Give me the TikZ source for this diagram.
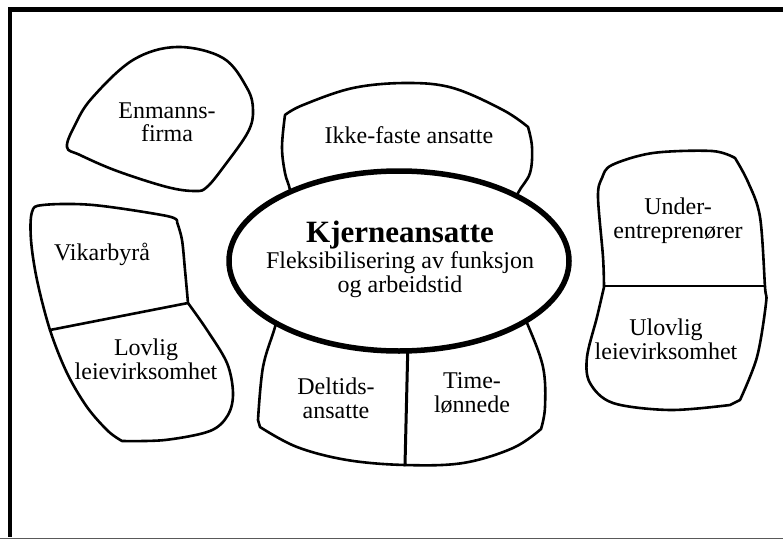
\documentclass[tikz,border=0pt]{standalone}
\usepackage{fontspec}
\setmainfont{Liberation Serif}
\begin{document}
\begin{tikzpicture}[x=1pt,y=-1pt, line join=round, line cap=round,
  blob/.style={draw, line width=2.6pt},
  divider/.style={draw, line width=2.6pt},
  lbl/.style={font=\fontsize{24}{23.5}\selectfont, align=center, anchor=base, inner sep=0pt}]
\useasboundingbox (0,0) rectangle (783,540);
\fill[white] (0,0) rectangle (783,540);
% frame
\coordinate (ftl) at (8,9.5);
\coordinate (ftr) at (783,9.5);
\coordinate (fl1) at (10,8);
\coordinate (fl2) at (10,537);
\coordinate (fb1) at (0,538.5);
\coordinate (fb2) at (783,538.5);
\draw[line width=4.5pt, line cap=butt] (ftl) -- (ftr);
\draw[line width=4pt, line cap=butt] (fl1) -- (fl2);
\draw[line width=1.5pt, black!65, line cap=butt] (fb1) -- (fb2);

% Enmanns-firma blob
\draw[blob] plot[smooth cycle, tension=0.6] coordinates {(67,147) (75,125) (92,98) (133,60) (177,47) (223,58) (247,88) (253,110) (248,132) (225,165) (207,187) (195,191) (167,187) (117,171) (80,155)};

% Ikke-faste ansatte
\draw[blob] plot[smooth, tension=0.6] coordinates {(293,215) (290,190) (285,173) (282,147) (285,115)}
  -- plot[smooth, tension=0.6] coordinates {(285,115) (303,105) (353,88) (407,83) (453,88) (503,110) (528,127)}
  -- plot[smooth, tension=0.6] coordinates {(528,127) (532,147) (530,173) (518,193) (510,215)};

% bottom shape
\draw[blob] plot[smooth, tension=0.6] coordinates {(281,300) (275,327) (263,367) (258,420)}
  -- (260,427)
  -- plot[smooth, tension=0.6] coordinates {(260,427) (297,447) (347,460) (405,465) (463,463) (513,448) (541,429)}
  -- plot[smooth, tension=0.6] coordinates {(541,429) (545,407) (543,367) (527,323) (515,300)};
\coordinate (dtop) at (408,340);
\coordinate (dbot) at (405,465);
\draw[divider, line width=3pt] (dtop) -- (dbot);

% core ellipse
\draw[line width=5.5pt, fill=white] (399,261) ellipse [x radius=170, y radius=90];

% left shape
\draw[blob] plot[smooth, tension=0.55] coordinates {(188,303) (207,330) (227,363) (233,393) (228,415) (210,431) (165,440) (122,441)}
  -- plot[smooth, tension=0.55] coordinates {(122,441) (108,431) (87,407) (67,373) (50,330) (37,280) (31,240) (32,212) (43,205) (93,205) (167,216) (177,222)}
  -- plot[smooth, tension=0.55] coordinates {(177,222) (182,240) (185,270) (188,303)} -- cycle;
\coordinate (ld1) at (50,330);
\coordinate (ld2) at (188,303);
\draw[divider] (ld1) -- (ld2);

% right shape
\draw[blob] plot[smooth, tension=0.55] coordinates {(604,287) (603,257) (598,197) (602,178) (612,165) (653,153) (712,151) (735,158)}
  -- plot[smooth, tension=0.55] coordinates {(735,158) (748,182) (760,217) (765,287) (766,303) (757,357) (740,400)}
  -- (730,405)
  -- plot[smooth, tension=0.55] coordinates {(730,405) (670,410) (613,403) (590,383) (587,357) (597,317) (604,287)} -- cycle;
\coordinate (rd1) at (604,286);
\coordinate (rd2) at (765,286);
\draw[divider] (rd1) -- (rd2);

% labels (multi-line nodes: base = last line's baseline)
\node[lbl] (enm) at (167,142) {Enmanns-\\firma};
\node[lbl] (ikke) at (409,143) {Ikke-faste ansatte};
\node[lbl] (core) at (400,292) {{\fontsize{31}{26}\selectfont\bfseries Kjerneansatte}\\[2.5pt]Fleksibilisering av funksjon\\[0.5pt]og arbeidstid};
\node[lbl] (vik) at (102,260) {Vikarbyrå};
\node[lbl] (lov) at (146,379) {Lovlig\\leievirksomhet};
\node[lbl] (del) at (336,418) {Deltids-\\ansatte};
\node[lbl] (time) at (472,412) {Time-\\lønnede};
\node[lbl] (under) at (678,238) {Under-\\entreprenører};
\node[lbl] (ulov) at (666,359) {Ulovlig\\leievirksomhet};
\end{tikzpicture}
\end{document}
